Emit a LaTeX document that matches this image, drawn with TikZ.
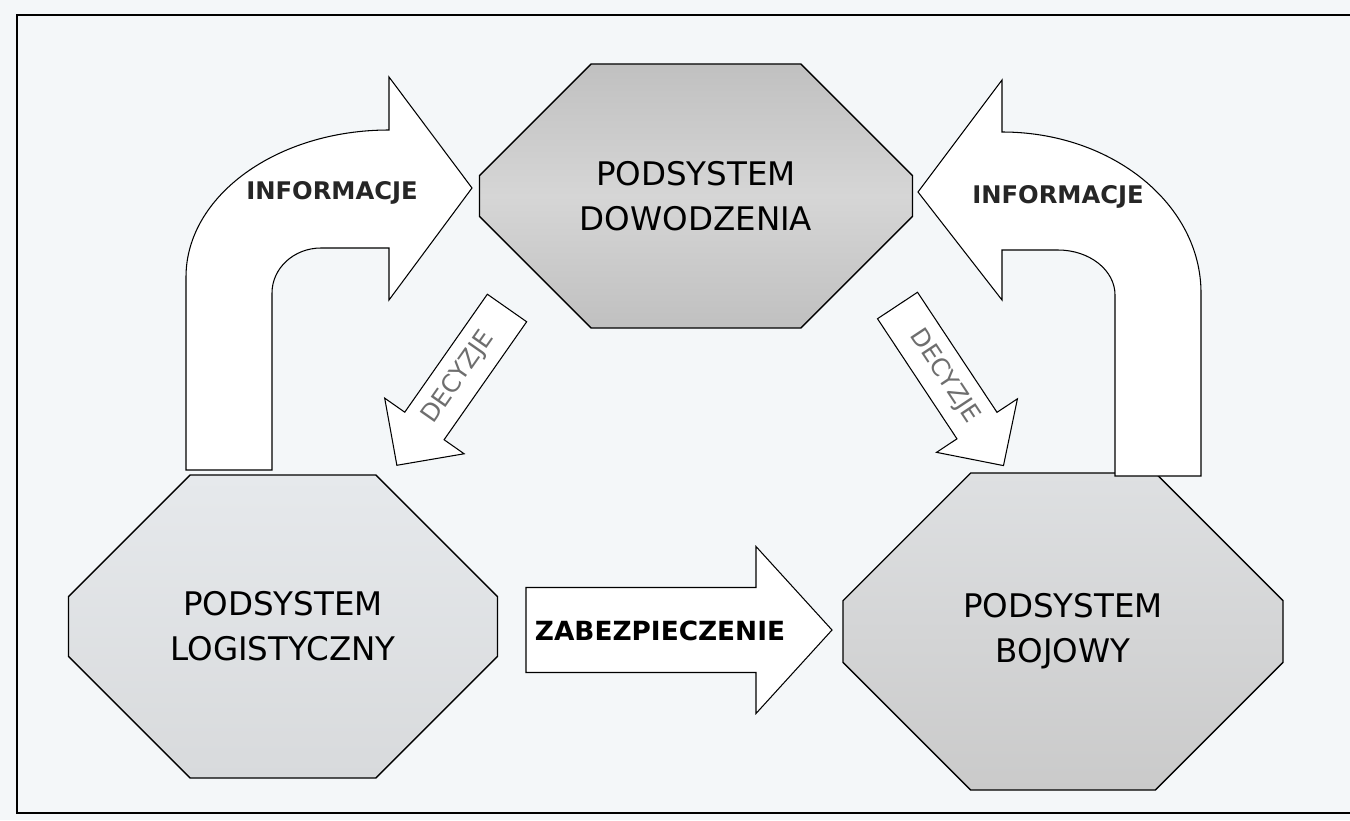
\documentclass[tikz,border=0pt]{standalone}
\usepackage{fontspec}
\setmainfont{DejaVu Sans}
\usetikzlibrary{shapes.misc}
\definecolor{paper}{RGB}{244,247,249}
\definecolor{dowtop}{RGB}{192,192,192}
\definecolor{dowmid}{RGB}{214,214,214}
\definecolor{logtop}{RGB}{230,233,236}
\definecolor{logbot}{RGB}{216,218,220}
\definecolor{bojtop}{RGB}{222,224,226}
\definecolor{bojbot}{RGB}{202,202,202}
\definecolor{decgray}{RGB}{110,110,110}

\begin{document}
\begin{tikzpicture}[
  podsystem/.style={chamfered rectangle, chamfered rectangle angle=45, draw, line width=0.8pt,
    align=center, inner sep=0pt, font=\fontsize{18.5}{25.5}\selectfont},
  blok/.style={draw, fill=white, line width=0.6pt},
  info/.style={font=\bfseries\fontsize{13.8}{16}\selectfont, text=black!85},
  decyzja/.style={font=\fontsize{14}{16}\selectfont, text=decgray}]
  \useasboundingbox (0,0) rectangle (27,-16.4);
  \fill[paper] (0,0) rectangle (27,-16.4);
  \draw[line width=1.4pt] (27,-0.30) -- (0.34,-0.30) -- (0.34,-16.26) -- (27,-16.26);

  \node[podsystem, minimum width=8.66cm, minimum height=5.28cm,
    chamfered rectangle xsep=1.54cm, chamfered rectangle ysep=1.54cm,
    top color=dowtop, bottom color=dowtop, middle color=dowmid] (dow) at (13.92,-3.92) {PODSYSTEM\\DOWODZENIA};
  \node[podsystem, minimum width=8.58cm, minimum height=6.06cm,
    chamfered rectangle xsep=1.74cm, chamfered rectangle ysep=1.74cm,
    top color=logtop, bottom color=logbot] (log) at (5.66,-12.53) {PODSYSTEM\\LOGISTYCZNY};
  \node[podsystem, minimum width=8.8cm, minimum height=6.34cm,
    chamfered rectangle xsep=1.8cm, chamfered rectangle ysep=1.8cm,
    top color=bojtop, bottom color=bojbot] (boj) at (21.26,-12.63) {PODSYSTEM\\BOJOWY};

  \draw[blok] (3.72,-9.40) -- (3.72,-5.54) arc[start angle=180, end angle=90, x radius=4.06, y radius=2.94]
    -- (7.78,-1.54) -- (9.44,-3.76) -- (7.78,-6.00) -- (7.78,-4.96) -- (6.42,-4.96)
    arc[start angle=90, end angle=180, x radius=0.98, y radius=0.9] -- (5.44,-9.40) -- cycle;
  \node[info] (infL) at (6.64,-3.86) {INFORMACJE};

  \draw[blok] (24.02,-9.52) -- (24.02,-5.86) arc[start angle=0, end angle=90, x radius=3.98, y radius=3.22]
    -- (20.04,-1.60) -- (18.36,-3.84) -- (20.04,-6.00) -- (20.04,-5.00) -- (21.16,-5.00)
    arc[start angle=90, end angle=0, x radius=1.14, y radius=0.9] -- (22.30,-9.52) -- cycle;
  \node[info] (infR) at (21.16,-3.94) {INFORMACJE};

  \begin{scope}[shift={(10.14,-6.16)}, rotate=235]
    \draw[blok] (0,0.48) -- (2.88,0.48) -- (2.88,0.97) -- (3.84,0) -- (2.88,-0.97) -- (2.88,-0.48) -- (0,-0.48) -- cycle;
    \node[decyzja, rotate=55] (decL) at (1.7,0) {DECYZJE};
  \end{scope}
  \begin{scope}[shift={(17.95,-6.11)}, rotate=-56.5]
    \draw[blok] (0,0.48) -- (2.88,0.48) -- (2.88,0.97) -- (3.84,0) -- (2.88,-0.97) -- (2.88,-0.48) -- (0,-0.48) -- cycle;
    \node[decyzja, rotate=-56.5] (decR) at (1.7,0) {DECYZJE};
  \end{scope}

  \draw[blok] (10.52,-11.75) -- (15.12,-11.75) -- (15.12,-10.93) -- (16.64,-12.6) -- (15.12,-14.27)
    -- (15.12,-13.45) -- (10.52,-13.45) -- cycle;
  \node[font=\bfseries\fontsize{15}{17}\selectfont] (zab) at (13.2,-12.62) {ZABEZPIECZENIE};
\end{tikzpicture}
\end{document}
